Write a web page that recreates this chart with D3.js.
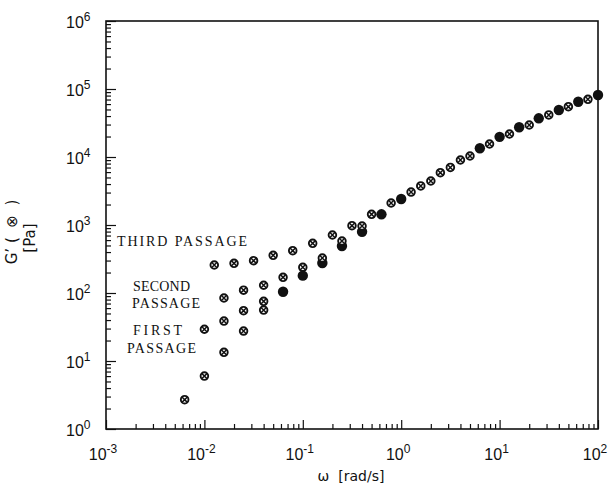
<!DOCTYPE html>
<html>
<head>
<meta charset="utf-8">
<script src="https://cdn.jsdelivr.net/npm/d3@7"></script>
<style>
  body { margin: 0; background: #fff; }
  svg { display: block; }
  .tick-label { font-family: "Liberation Sans", "DejaVu Sans", sans-serif; font-size: 16px; fill: #111; }
  .axis-title { font-family: "DejaVu Sans", sans-serif; font-size: 14px; fill: #111; }
  .note { font-family: "Liberation Serif", "DejaVu Serif", serif; font-size: 14px; fill: #111; }
</style>
</head>
<body>
<svg id="chart" width="613" height="485"></svg>
<script>
// values: omega in rad/s, G' in Pa
const lowOmega = [0.0063, 0.01, 0.0158, 0.025, 0.04];
const lowG = [2.7, 6.0, 13.4, 27.6, 56];

const firstOmega = [0.01, 0.0158, 0.025, 0.04];
const firstG = [29.3, 38.7, 55, 75.5];

const secondOmega = [0.0158, 0.025, 0.04, 0.063, 0.1, 0.158, 0.25, 0.4, 1.58, 2.5, 4.0];
const secondG = [84.4, 110, 130, 170, 239, 327, 582, 967, 3750, 5880, 9030];

const thirdOmega = [0.0126, 0.02, 0.0316, 0.05, 0.079, 0.126, 0.2, 0.316, 0.5, 0.79,
  1.26, 2.0, 3.16, 5.0, 7.9, 12.6, 20, 31.6, 50, 79];
const thirdG = [258, 273, 299, 358, 419, 538, 713, 977, 1436, 2107,
  3055, 4436, 7015, 10350, 15530, 21800, 29560, 41500, 54950, 70600];

const filledOmega = [0.063, 0.1, 0.158, 0.25, 0.4, 0.63, 1.0, 6.3, 10, 15.8, 25, 40, 63, 100];
const filledG = [104.5, 180, 276, 491, 797, 1436, 2410, 13430, 19800, 27350, 37070, 49100, 65000, 81600];

const xExponents = [-3, -2, -1, 0, 1, 2];
const yExponents = [0, 1, 2, 3, 4, 5, 6];

const notes = [
  { text: "THIRD PASSAGE", x: 117, y: 246, w: 130 },
  { text: "SECOND", x: 133, y: 291, w: 57 },
  { text: "PASSAGE", x: 132, y: 307.5, w: 68 },
  { text: "FIRST", x: 133, y: 335, w: 49 },
  { text: "PASSAGE", x: 127, y: 352.5, w: 69 },
];

const dims = { left: 106, right: 598, top: 21, bottom: 429 };

const x = d3.scaleLog().domain([1e-3, 1e2]).range([dims.left, dims.right]);
const y = d3.scaleLog().domain([1, 1e6]).range([dims.bottom, dims.top]);

const svg = d3.select("#chart");

const isMajor = (v) => Math.abs(Math.log10(v) - Math.round(Math.log10(v))) < 1e-9;
const xMinor = x.ticks().filter((v) => !isMajor(v));
const yMinor = y.ticks().filter((v) => !isMajor(v));
const xMajor = xExponents.map((e) => Math.pow(10, e));
const yMajor = yExponents.map((e) => Math.pow(10, e));

function tickAxis(axis, translate) {
  const g = svg.append("g").attr("transform", translate).call(axis);
  g.select(".domain").remove();
  g.selectAll("line").attr("stroke", "#111").attr("stroke-width", 1.2);
  return g;
}

tickAxis(d3.axisBottom(x).tickValues(xMinor).tickSize(-5).tickFormat(""), `translate(0,${dims.bottom})`);
tickAxis(d3.axisBottom(x).tickValues(xMajor).tickSize(-9).tickFormat(""), `translate(0,${dims.bottom})`);
tickAxis(d3.axisLeft(y).tickValues(yMinor).tickSize(-5).tickFormat(""), `translate(${dims.left},0)`);
tickAxis(d3.axisLeft(y).tickValues(yMajor).tickSize(-10).tickFormat(""), `translate(${dims.left},0)`);

// frame
svg.append("rect")
  .attr("x", dims.left)
  .attr("y", dims.top)
  .attr("width", dims.right - dims.left)
  .attr("height", dims.bottom - dims.top)
  .attr("fill", "none")
  .attr("stroke", "#111")
  .attr("stroke-width", 1.6);

function powerLabel(sel, e) {
  sel.append("tspan").text("10");
  sel.append("tspan")
    .attr("dy", -7)
    .style("font-size", "12px")
    .text(e);
}

svg.append("g")
  .selectAll("text")
  .data(xExponents)
  .join("text")
  .attr("class", "tick-label")
  .attr("x", (e) => x(Math.pow(10, e)) - 3)
  .attr("y", dims.bottom + 31)
  .attr("text-anchor", "middle")
  .each(function (e) { powerLabel(d3.select(this), e); });

svg.append("g")
  .selectAll("text")
  .data(yExponents)
  .join("text")
  .attr("class", "tick-label")
  .attr("x", 66)
  .attr("y", (e) => y(Math.pow(10, e)) + 7)
  .each(function (e) { powerLabel(d3.select(this), e); });

svg.append("text")
  .attr("class", "axis-title")
  .attr("x", 351)
  .attr("y", 481)
  .attr("text-anchor", "middle")
  .attr("xml:space", "preserve")
  .text("ω  [rad/s]");

svg.append("text")
  .attr("class", "axis-title")
  .style("font-size", "15px")
  .attr("transform", "translate(17,232) rotate(-90)")
  .attr("text-anchor", "middle")
  .attr("xml:space", "preserve")
  .text("G’ (  ⊗  )");

svg.append("text")
  .attr("class", "axis-title")
  .style("font-size", "15px")
  .attr("transform", "translate(35,238) rotate(-90)")
  .attr("text-anchor", "middle")
  .text("[Pa]");

svg.append("g")
  .selectAll("text")
  .data(notes)
  .join("text")
  .attr("class", "note")
  .attr("x", (d) => d.x)
  .attr("y", (d) => d.y)
  .attr("textLength", (d) => d.w)
  .attr("lengthAdjust", "spacing")
  .text((d) => d.text);

const zip = (xs, ys) => xs.map((w, i) => [w, ys[i]]);
const crossed = [
  ...zip(lowOmega, lowG),
  ...zip(firstOmega, firstG),
  ...zip(secondOmega, secondG),
  ...zip(thirdOmega, thirdG),
];
const filled = zip(filledOmega, filledG);

const gMarks = svg.append("g");

gMarks.selectAll(".filled")
  .data(filled)
  .join("circle")
  .attr("class", "filled")
  .attr("cx", (d) => x(d[0]))
  .attr("cy", (d) => y(d[1]))
  .attr("r", 5.2)
  .attr("fill", "#111");

const cross = gMarks.selectAll(".crossed")
  .data(crossed)
  .join("g")
  .attr("class", "crossed")
  .attr("transform", (d) => `translate(${x(d[0])},${y(d[1])})`);
cross.append("circle")
  .attr("r", 3.8)
  .attr("fill", "#fff")
  .attr("stroke", "#111")
  .attr("stroke-width", 1.9);
cross.append("path")
  .attr("d", "M-2.7,-2.7L2.7,2.7M-2.7,2.7L2.7,-2.7")
  .attr("stroke", "#111")
  .attr("stroke-width", 1.5);
</script>
</body>
</html>
